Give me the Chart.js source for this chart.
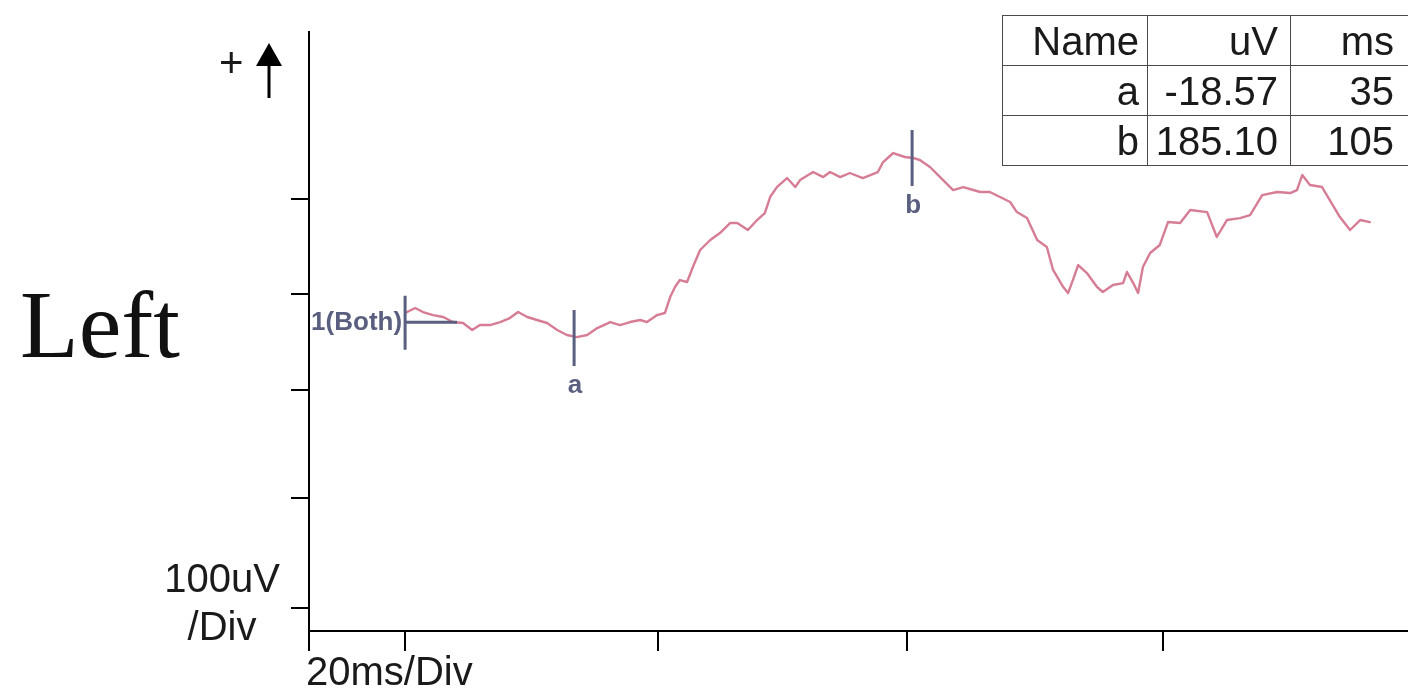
<!DOCTYPE html>
<html>
<head>
<meta charset="utf-8">
<script src="https://cdn.jsdelivr.net/npm/chart.js@4/dist/chart.umd.min.js"></script>
<style>
    body { margin: 0; background: #fff; }
    #wrap { position: relative; width: 1408px; height: 693px; overflow: hidden; font-family: "Liberation Sans", Arial, sans-serif; color: #1a1a1a; }
    #wrap canvas { position: absolute; left: 0; top: 0; }
    .lbl { position: absolute; font-size: 40px; line-height: 40px; white-space: nowrap; }
    #side { position: absolute; left: 20px; top: 277px; font-family: "Liberation Serif", "Times New Roman", serif; font-size: 96px; line-height: 96px; color: #111; }
    #scaleY { position: absolute; left: 142px; top: 554px; width: 160px; text-align: center; font-size: 40px; line-height: 48px; }
    #peaks { position: absolute; left: 1002px; top: 15px; width: 410px; border-collapse: collapse; font-size: 40px; table-layout: fixed; }
    #peaks td { border: 1.5px solid #4a4a4a; text-align: right; padding: 0 12px 0 0; height: 49px; line-height: 40px; }
    #peaks td:first-child { padding-right: 8px; }
    #peaks td:last-child { padding-right: 18px; }
</style>
</head>
<body>
<div id="wrap">
    <canvas id="erpChart" width="1408" height="693"></canvas>
    <div id="side">Left</div>
    <div class="lbl" style="left:219px; top:42px; font-size:42px; line-height:42px;">+</div>
    <div id="scaleY">100uV<br>/Div</div>
    <div class="lbl" style="left:306px; top:651px;">20ms/Div</div>
    <table id="peaks">
        <colgroup><col style="width:145px"><col style="width:143px"><col style="width:122px"></colgroup>
        <tbody id="peakRows"></tbody>
    </table>
</div>
<script>
// trace (ms after stimulus, uV)
const timeMs = [
    0, 2.1, 3.7, 5.8, 7.9, 9.9, 12.0, 13.9, 15.5, 17.6, 19.7, 21.7, 23.4, 25.3, 27.3, 29.4, 31.5, 33.5, 35.6, 37.7,
    39.8, 42.5, 44.5, 46.6, 48.7, 50.1, 52.2, 53.8, 54.9, 55.9, 56.9, 58.4, 59.6, 61.1, 63.2, 65.2, 67.3, 68.8, 71.0, 72.9,
    74.5, 75.6, 77.0, 79.1, 80.8, 81.8, 84.5, 86.6, 88.0, 90.1, 92.1, 94.8, 97.9, 99.0, 101.1, 103.5, 105.2, 106.6, 108.7, 110.8,
    113.5, 115.6, 119.1, 121.1, 123.2, 125.3, 126.7, 128.8, 130.9, 132.9, 134.2, 136.3, 137.3, 138.3, 139.4, 141.2, 143.3, 144.5, 146.6, 148.7,
    149.5, 150.8, 151.8, 152.8, 154.3, 156.3, 158.0, 160.5, 162.6, 166.1, 168.1, 170.2, 172.9, 175.0, 177.5, 180.6, 183.3, 184.7, 185.8, 187.4,
    189.9, 191.5, 193.6, 195.7, 197.8, 199.8
];
const amplitudeUv = [
    8.6, 14.3, 9.7, 6.3, 4.1, -1.6, -2.7, -10.6, -5.0, -5.0, -1.6, 2.9, 9.7, 4.1, 0.7, -2.7, -10.6, -16.3, -18.6, -16.3,
    -8.4, -1.6, -5.0, -1.6, 0.7, -1.6, 6.3, 8.6, 26.7, 38.0, 45.9, 43.7, 60.6, 79.9, 91.2, 99.1, 110.4, 110.4, 102.5, 113.8,
    121.7, 139.8, 151.1, 161.3, 151.1, 159.0, 168.1, 162.4, 168.1, 162.4, 167.0, 161.3, 168.1, 179.4, 189.6, 185.1, 184.0, 181.7, 173.8, 162.4,
    147.7, 151.1, 145.5, 145.5, 139.8, 134.2, 122.8, 116.0, 91.2, 83.3, 57.3, 38.0, 31.2, 45.9, 62.9, 53.8, 38.0, 32.4, 40.3, 42.5,
    55.0, 42.5, 31.2, 60.6, 76.5, 85.6, 111.5, 110.4, 125.1, 122.8, 94.6, 113.8, 116.0, 119.4, 142.0, 145.5, 144.3, 147.7, 164.7, 153.4,
    151.1, 136.4, 117.2, 102.5, 113.8, 111.5
];

// peak markers
const markerNames = ['a', 'b'];
const markerUv = [-18.57, 185.10];
const markerMs = [35, 105];

// division marks on the axes
const xTickMs = [-19.9, 0, 52.4, 104.0, 157.0];
const yTickUv = [137.6, 30.1, -78.5, -200.7, -325.1];

const traceColor = '#d67d95';
const markerColor = '#5a5f80';

// peak table
const rows = document.getElementById('peakRows');
let html = '<tr><td>Name</td><td>uV</td><td>ms</td></tr>';
markerNames.forEach((n, i) => {
    html += '<tr><td>' + n + '</td><td>' + markerUv[i].toFixed(2) + '</td><td>' + markerMs[i] + '</td></tr>';
});
rows.innerHTML = html;

const markerPlugin = {
    id: 'markers',
    afterDatasetsDraw(chart) {
        const { ctx, scales: { x, y } } = chart;
        ctx.save();
        ctx.strokeStyle = markerColor;
        ctx.fillStyle = markerColor;
        ctx.lineWidth = 3;

        // reference cursor at stimulus onset
        const rx = x.getPixelForValue(0);
        const ry = y.getPixelForValue(0);
        ctx.beginPath();
        ctx.moveTo(rx, ry - 25);
        ctx.lineTo(rx, ry + 29);
        ctx.moveTo(rx, ry + 1.5);
        ctx.lineTo(rx + 52, ry + 1.5);
        ctx.stroke();
        ctx.font = 'bold 26px "Liberation Sans"';
        ctx.textAlign = 'right';
        ctx.textBaseline = 'alphabetic';
        ctx.fillText('1(Both)', rx - 3, ry + 9);

        ctx.font = 'bold 26px "Liberation Sans"';
        ctx.textAlign = 'center';
        markerNames.forEach((n, i) => {
            const px = x.getPixelForValue(markerMs[i]);
            const py = y.getPixelForValue(markerUv[i]);
            ctx.beginPath();
            ctx.moveTo(px, py - 27);
            ctx.lineTo(px, py + 29);
            ctx.stroke();
            ctx.fillText(n, px + 1, py + 56);
        });
        ctx.restore();
    },
    afterDraw(chart) {
        // polarity arrow
        const ctx = chart.ctx;
        ctx.save();
        ctx.fillStyle = '#000';
        ctx.beginPath();
        ctx.moveTo(269, 43);
        ctx.lineTo(282, 66);
        ctx.lineTo(256, 66);
        ctx.closePath();
        ctx.fill();
        ctx.fillRect(267.5, 64, 3, 34);
        ctx.restore();
    }
};

const ctx = document.getElementById('erpChart').getContext('2d');
const erpChart = new Chart(ctx, {
    type: 'line',
    data: {
        datasets: [{
            data: timeMs.map((t, i) => ({ x: t, y: amplitudeUv[i] })),
            borderColor: traceColor,
            borderWidth: 2.4,
            borderJoinStyle: 'round',
            borderCapStyle: 'round',
            pointRadius: 0,
            tension: 0,
            fill: false
        }]
    },
    options: {
        responsive: false,
        animation: false,
        devicePixelRatio: 1,
        layout: { padding: { left: 0, top: 32, right: 0, bottom: 0 } },
        plugins: {
            legend: { display: false },
            tooltip: { enabled: false }
        },
        scales: {
            x: {
                type: 'linear',
                min: -19.9,
                max: 207.7,
                border: { color: '#000', width: 2 },
                grid: { drawOnChartArea: false, drawTicks: true, tickLength: 20, color: '#000', lineWidth: 2 },
                ticks: { display: false },
                afterBuildTicks: scale => { scale.ticks = xTickMs.map(v => ({ value: v })); },
                afterFit: scale => { scale.height = 62; }
            },
            y: {
                min: -351.1,
                max: 326.5,
                border: { color: '#000', width: 2 },
                grid: { drawOnChartArea: false, drawTicks: true, tickLength: 18, color: '#000', lineWidth: 2 },
                ticks: { display: false },
                afterBuildTicks: scale => { scale.ticks = yTickUv.map(v => ({ value: v })); },
                afterFit: scale => { scale.width = 309; }
            }
        }
    },
    plugins: [markerPlugin]
});
</script>
</body>
</html>
